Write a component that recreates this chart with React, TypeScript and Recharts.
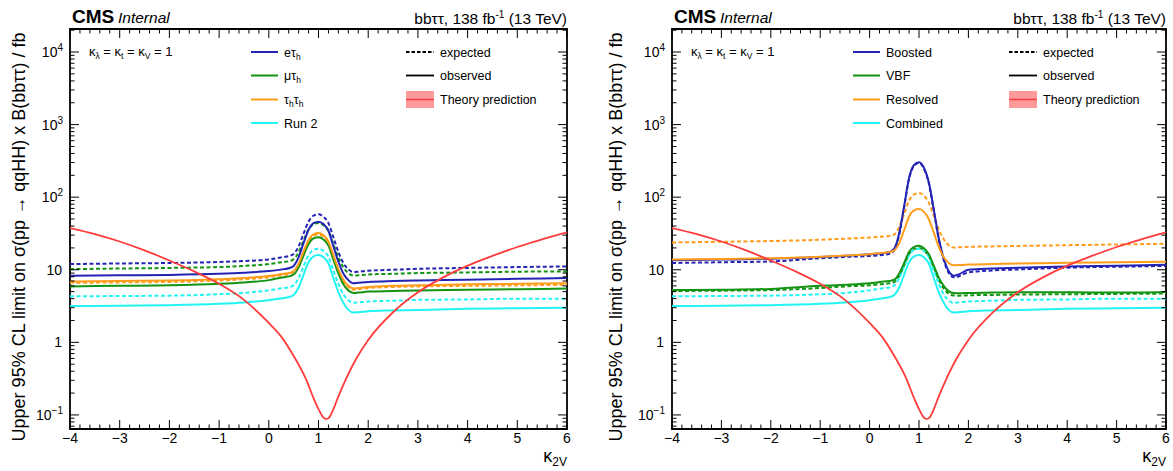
import React from 'react';
import { LineChart, Line, XAxis, YAxis, ReferenceArea } from 'recharts';

const FONT = '"Liberation Sans", Arial, Helvetica, sans-serif';

// kappa_2V sample points shared by the limit curves
const K2V = [-4, -3, -2, -1, -0.5, 0, 0.3, 0.4, 0.5, 0.6, 0.7, 0.8, 0.9, 1.0, 1.1, 1.2, 1.3, 1.4, 1.5, 1.6, 1.7, 1.8, 2.0, 2.5, 3, 4, 5, 6];

// Left panel: channels
const ETAU_EXP = [12.0, 12.2, 12.4, 12.8, 13.2, 13.9, 15.0, 15.4, 16.5, 21.0, 31.6, 46.0, 55.6, 58, 53.8, 44.0, 27.9, 17.6, 12.4, 10.2, 9.3, 9.4, 9.7, 10.0, 10.3, 10.6, 10.9, 11.1];
const ETAU_OBS = [8.3, 8.4, 8.5, 8.8, 9.1, 9.6, 10.2, 10.5, 11.3, 14.9, 23.4, 35.6, 44.0, 46, 42.6, 34.3, 21.0, 12.9, 8.9, 7.2, 6.5, 6.6, 6.8, 7.0, 7.1, 7.3, 7.5, 7.7];
const MUTAU_EXP = [10.2, 10.4, 10.6, 10.9, 11.3, 12.0, 12.8, 13.1, 14.0, 17.4, 25.2, 35.6, 42.4, 44, 41.1, 34.2, 22.5, 14.9, 10.8, 9.0, 8.3, 8.4, 8.6, 8.8, 9.0, 9.2, 9.4, 9.5];
const MUTAU_OBS = [5.9, 6.0, 6.1, 6.4, 6.7, 7.2, 7.9, 8.1, 8.6, 10.8, 15.8, 22.6, 27.0, 28, 26.1, 21.5, 13.8, 8.9, 6.3, 5.2, 4.8, 4.85, 5.0, 5.1, 5.2, 5.3, 5.4, 5.5];
const TAUTAU_EXP = [6.6, 6.7, 6.8, 7.1, 7.4, 7.9, 8.5, 8.7, 9.3, 11.7, 17.2, 24.6, 29.5, 30.6, 28.6, 23.5, 15.2, 9.8, 7.0, 5.8, 5.3, 5.4, 5.6, 5.8, 5.9, 6.0, 6.1, 6.2];
const TAUTAU_OBS = [6.9, 7.0, 7.1, 7.4, 7.7, 8.2, 8.8, 9.0, 9.6, 12.1, 17.9, 25.7, 30.8, 32, 29.8, 24.5, 15.8, 10.2, 7.3, 6.0, 5.5, 5.6, 5.8, 6.0, 6.1, 6.3, 6.4, 6.5];
const RUN2_EXP = [4.3, 4.35, 4.4, 4.6, 4.8, 5.2, 5.6, 5.7, 6.1, 7.7, 11.1, 15.8, 18.8, 19.5, 18.2, 15.1, 9.8, 6.4, 4.6, 3.8, 3.5, 3.55, 3.65, 3.75, 3.85, 3.9, 4.0, 4.0];
const RUN2_OBS = [3.16, 3.2, 3.25, 3.4, 3.55, 3.8, 4.07, 4.2, 4.5, 5.7, 8.6, 12.7, 15.3, 16, 14.9, 12.2, 7.7, 4.9, 3.5, 2.8, 2.58, 2.6, 2.68, 2.75, 2.8, 2.9, 2.95, 3.0];

// Right panel: categories
const BOOSTED_EXP = [12.4, 12.7, 13.0, 14.4, 15.0, 15.5, 16.1, 16.6, 18.6, 30.5, 73, 180, 270, 295, 246, 154, 64.5, 26.1, 13.6, 9.1, 7.9, 8.1, 9.2, 9.8, 10.1, 10.7, 11.0, 11.3];
const BOOSTED_OBS = [13.5, 13.8, 14.2, 15.0, 15.6, 16.3, 17.0, 17.5, 19.6, 32.1, 76.2, 186, 279, 304, 254, 159, 67, 27.2, 14.3, 9.6, 8.3, 8.6, 10.0, 10.4, 10.7, 11.1, 11.4, 11.7];
const VBF_EXP = [5.1, 5.15, 5.25, 5.6, 5.9, 6.1, 6.4, 6.5, 6.8, 8.2, 11.5, 16.4, 19.2, 19.9, 18.5, 15.2, 10.6, 7.3, 5.5, 4.7, 4.43, 4.4, 4.45, 4.5, 4.55, 4.6, 4.65, 4.7];
const VBF_OBS = [5.25, 5.3, 5.45, 6.0, 6.2, 6.5, 6.9, 7.0, 7.3, 8.9, 12.4, 17.7, 20.7, 21.4, 19.8, 16.3, 11.4, 7.8, 6.0, 5.07, 4.78, 4.75, 4.8, 4.85, 4.9, 4.9, 4.85, 4.95];
const RESOLVED_EXP = [23.8, 24.3, 24.9, 25.9, 26.8, 27.8, 28.8, 29.2, 30.8, 39.0, 58.9, 90.2, 109, 114, 104.7, 83.6, 55.2, 35.9, 26.3, 21.7, 20.3, 20.4, 20.7, 21.0, 21.3, 21.8, 22.3, 22.8];
const RESOLVED_OBS = [13.8, 14.1, 14.4, 15.1, 15.7, 16.4, 17.2, 17.5, 18.5, 23.3, 35.3, 54.2, 65.8, 68.5, 62.7, 49.7, 32.4, 20.7, 15.0, 12.4, 11.5, 11.6, 11.8, 12.0, 12.2, 12.5, 12.7, 12.9];
const COMBINED_EXP = RUN2_EXP;
const COMBINED_OBS = RUN2_OBS;

// Theory prediction
const TH_K2V = [-4, -3.5, -3, -2.5, -2, -1.5, -1, -0.5, 0, 0.25, 0.5, 0.75, 0.9, 1.0, 1.1, 1.15, 1.2, 1.3, 1.4, 1.5, 1.75, 2.0, 2.5, 3, 3.5, 4, 4.5, 5, 5.5, 6];
const TH_XS = [37.5, 31, 24.5, 18.5, 13.4, 9.5, 6.4, 3.85, 1.85, 1.2, 0.65, 0.31, 0.17, 0.12, 0.092, 0.088, 0.09, 0.12, 0.18, 0.26, 0.58, 1.08, 2.6, 4.9, 7.8, 11.4, 15.5, 20.6, 26.3, 32.7];

// Axis ticks
const Y_MAJOR = [0.1, 1, 10, 100, 1000, 10000];
const Y_MAJOR_LABELS = ['−1', '', '', '2', '3', '4'];
const Y_DOMAIN: [number, number] = [0.064, 20750];

const X_TICKS: number[] = [];
for (let i = 0; i <= 50; i++) X_TICKS.push(Number((-4 + i * 0.2).toFixed(1)));
const Y_TICKS: number[] = [];
for (let d = -2; d <= 4; d++) {
  for (let m = 1; m <= 9; m++) {
    const v = Number((m * Math.pow(10, d)).toPrecision(3));
    if (v >= Y_DOMAIN[0] && v <= Y_DOMAIN[1]) Y_TICKS.push(v);
  }
}

const COL = { blue: '#2323b4', green: '#129412', orange: '#ff9c1c', cyan: '#22f4f4', red: '#ff3b3b' };

const leftRows = K2V.map((k, i) => ({
  k,
  eExp: ETAU_EXP[i], eObs: ETAU_OBS[i],
  mExp: MUTAU_EXP[i], mObs: MUTAU_OBS[i],
  tExp: TAUTAU_EXP[i], tObs: TAUTAU_OBS[i],
  rExp: RUN2_EXP[i], rObs: RUN2_OBS[i],
}));
const rightRows = K2V.map((k, i) => ({
  k,
  bExp: BOOSTED_EXP[i], bObs: BOOSTED_OBS[i],
  vExp: VBF_EXP[i], vObs: VBF_OBS[i],
  sExp: RESOLVED_EXP[i], sObs: RESOLVED_OBS[i],
  cExp: COMBINED_EXP[i], cObs: COMBINED_OBS[i],
}));
const thRows = TH_K2V.map((k, i) => ({ k, th: TH_XS[i] }));

const PLOT_H = 400;

const makeXTick = () => (props: any) => {
  const { x, y, payload } = props;
  const v = payload.value;
  const major = Math.abs(v - Math.round(v)) < 1e-6;
  const len = major ? 9 : 4.5;
  return (
    <g>
      <line x1={x} x2={x} y1={y} y2={y - len} stroke="#000" strokeWidth={1} />
      <line x1={x} x2={x} y1={y - PLOT_H} y2={y - PLOT_H + len} stroke="#000" strokeWidth={1} />
      {major && (
        <text x={x} y={y + 14} textAnchor="middle" fontSize={14} fontFamily={FONT} fill="#000">
          {v < 0 ? '−' + String(-v) : String(v)}
        </text>
      )}
    </g>
  );
};

const makeYTick = (plotW: number) => (props: any) => {
  const { x, y, payload } = props;
  const v = payload.value;
  const e = Math.log10(v);
  const major = Math.abs(e - Math.round(e)) < 1e-6;
  const len = major ? 9 : 4.5;
  const idx = Y_MAJOR.findIndex((m) => Math.abs(m - v) / m < 1e-6);
  let label: React.ReactNode = null;
  if (major && idx >= 0) {
    if (v === 1) label = '1';
    else if (v === 10) label = '10';
    else label = (<>10<tspan fontSize={10} dy={-6}>{Y_MAJOR_LABELS[idx]}</tspan></>);
  }
  return (
    <g>
      <line x1={x} x2={x + len} y1={y} y2={y} stroke="#000" strokeWidth={1} />
      <line x1={x + plotW} x2={x + plotW - len} y1={y} y2={y} stroke="#000" strokeWidth={1} />
      {label !== null && (
        <text x={x - (v === 1 || v === 10 ? 8 : 7)} y={y + 5} textAnchor="end" fontSize={14} fontFamily={FONT} fill="#000">
          {label}
        </text>
      )}
    </g>
  );
};

const DASH = '4 2.5';
const SW = 2;

function Panel({ rows, lines, plotW, margin }: any) {
  const width = margin.left + 60 + plotW + margin.right;
  return (
    <LineChart width={width} height={471} data={rows} margin={margin}>
      <XAxis dataKey="k" type="number" domain={[-4, 6]} ticks={X_TICKS} interval={0} allowDataOverflow
        tickSize={0} tickMargin={0} axisLine={false} tickLine={false} tick={makeXTick()} height={30} />
      <YAxis type="number" scale="log" domain={Y_DOMAIN} ticks={Y_TICKS} interval={0} allowDataOverflow
        tickSize={0} tickMargin={0} axisLine={false} tickLine={false} tick={makeYTick(plotW)} width={60} />
      {lines.map((l: any) => (
        <Line key={l.key} dataKey={l.key} stroke={l.color} strokeWidth={SW} strokeDasharray={l.dash ? DASH : undefined}
          dot={false} activeDot={false} type="monotone" isAnimationActive={false} />
      ))}
      <Line data={thRows} dataKey="th" stroke={COL.red} strokeWidth={1.8} dot={false} activeDot={false} type="monotone" isAnimationActive={false} />
      <ReferenceArea x1={-4} x2={6} y1={Y_DOMAIN[0]} y2={Y_DOMAIN[1]} fill="none" fillOpacity={0} stroke="#000" strokeWidth={1.8} ifOverflow="visible" />
    </LineChart>
  );
}

const leftLines = [
  { key: 'eExp', color: COL.blue, dash: true },
  { key: 'mExp', color: COL.green, dash: true },
  { key: 'tExp', color: COL.orange, dash: true },
  { key: 'rExp', color: COL.cyan, dash: true },
  { key: 'eObs', color: COL.blue },
  { key: 'mObs', color: COL.green },
  { key: 'tObs', color: COL.orange },
  { key: 'rObs', color: COL.cyan },
];
const rightLines = [
  { key: 'bExp', color: COL.blue, dash: true },
  { key: 'vExp', color: COL.green, dash: true },
  { key: 'sExp', color: COL.orange, dash: true },
  { key: 'cExp', color: COL.cyan, dash: true },
  { key: 'bObs', color: COL.blue },
  { key: 'vObs', color: COL.green },
  { key: 'sObs', color: COL.orange },
  { key: 'cObs', color: COL.cyan },
];

const Sub = ({ children }: any) => <tspan fontSize={8.5} dy={3}>{children}</tspan>;

function Overlay({ x0, right, labels, legX, leg2X, ylabX }: any) {
  const rows = [52, 75.5, 99.5, 123];
  const colors = [COL.blue, COL.green, COL.orange, COL.cyan];
  return (
    <g fontFamily={FONT} fill="#000">
      <text x={x0 + 2} y={23} fontSize={19} fontWeight="bold">CMS</text>
      <text x={x0 + 48} y={23} fontSize={15.5} fontStyle="italic">Internal</text>
      <text x={right} y={24} fontSize={15.5} textAnchor="end">
        bbττ, 138 fb<tspan fontSize={10} dy={-6}>-1</tspan><tspan dy={6}> (13 TeV)</tspan>
      </text>
      <text x={x0 + 19} y={56} fontSize={13}>
        κ<tspan fontSize={8.5} dy={3}>λ</tspan><tspan dy={-3}> = κ</tspan><tspan fontSize={8.5} dy={3}>t</tspan><tspan dy={-3}> = κ</tspan><tspan fontSize={8.5} dy={3}>V</tspan><tspan dy={-3}> = 1</tspan>
      </text>
      {labels.map((lab: any, i: number) => (
        <g key={i}>
          <line x1={legX} x2={legX + 27} y1={rows[i]} y2={rows[i]} stroke={colors[i]} strokeWidth={2} />
          <text x={legX + 33} y={rows[i] + 4.5} fontSize={12.5}>{lab}</text>
        </g>
      ))}
      <line x1={leg2X} x2={leg2X + 28} y1={rows[0]} y2={rows[0]} stroke="#000" strokeWidth={1.8} strokeDasharray="3.5 2" />
      <text x={leg2X + 34} y={rows[0] + 4.5} fontSize={12.5}>expected</text>
      <line x1={leg2X} x2={leg2X + 28} y1={rows[1]} y2={rows[1]} stroke="#000" strokeWidth={1.8} />
      <text x={leg2X + 34} y={rows[1] + 4.5} fontSize={12.5}>observed</text>
      <rect x={leg2X} y={rows[2] - 8.5} width={28} height={17} fill="#ff9a9a" />
      <line x1={leg2X} x2={leg2X + 28} y1={rows[2]} y2={rows[2]} stroke={COL.red} strokeWidth={1.5} />
      <text x={leg2X + 34} y={rows[2] + 4.5} fontSize={12.5}>Theory prediction</text>
      <text x={right} y={462} fontSize={18} textAnchor="end">
        κ<tspan fontSize={12} dy={4}>2V</tspan>
      </text>
      <text transform={`translate(${ylabX},237) rotate(-90)`} textAnchor="middle" dominantBaseline="central" fontSize={18}>
        Upper 95% CL limit on σ(pp → qqHH) x B(bbττ) / fb
      </text>
    </g>
  );
}

export default function App() {
  const leftLabels = [
    <>eτ<Sub>h</Sub></>,
    <>μτ<Sub>h</Sub></>,
    <>τ<Sub>h</Sub><tspan dy={-3}>τ</tspan><Sub>h</Sub></>,
    'Run 2',
  ];
  const rightLabels = ['Boosted', 'VBF', 'Resolved', 'Combined'];
  return (
    <div style={{ position: 'absolute', left: 0, top: 0, width: 1173, height: 471, background: '#fff', overflow: 'hidden' }}>
      <div style={{ position: 'absolute', left: 0, top: 0 }}>
        <Panel rows={leftRows} lines={leftLines} plotW={497} margin={{ top: 29, right: 19, bottom: 12, left: 10 }} />
      </div>
      <div style={{ position: 'absolute', left: 586, top: 0 }}>
        <Panel rows={rightRows} lines={rightLines} plotW={494} margin={{ top: 29, right: 7, bottom: 12, left: 26 }} />
      </div>
      <svg width={1173} height={471} style={{ position: 'absolute', left: 0, top: 0, pointerEvents: 'none' }}>
        <Overlay x0={70} right={567} labels={leftLabels} legX={251} leg2X={406} ylabX={18.5} />
        <Overlay x0={672} right={1166} labels={rightLabels} legX={853} leg2X={1009} ylabX={616} />
      </svg>
    </div>
  );
}
